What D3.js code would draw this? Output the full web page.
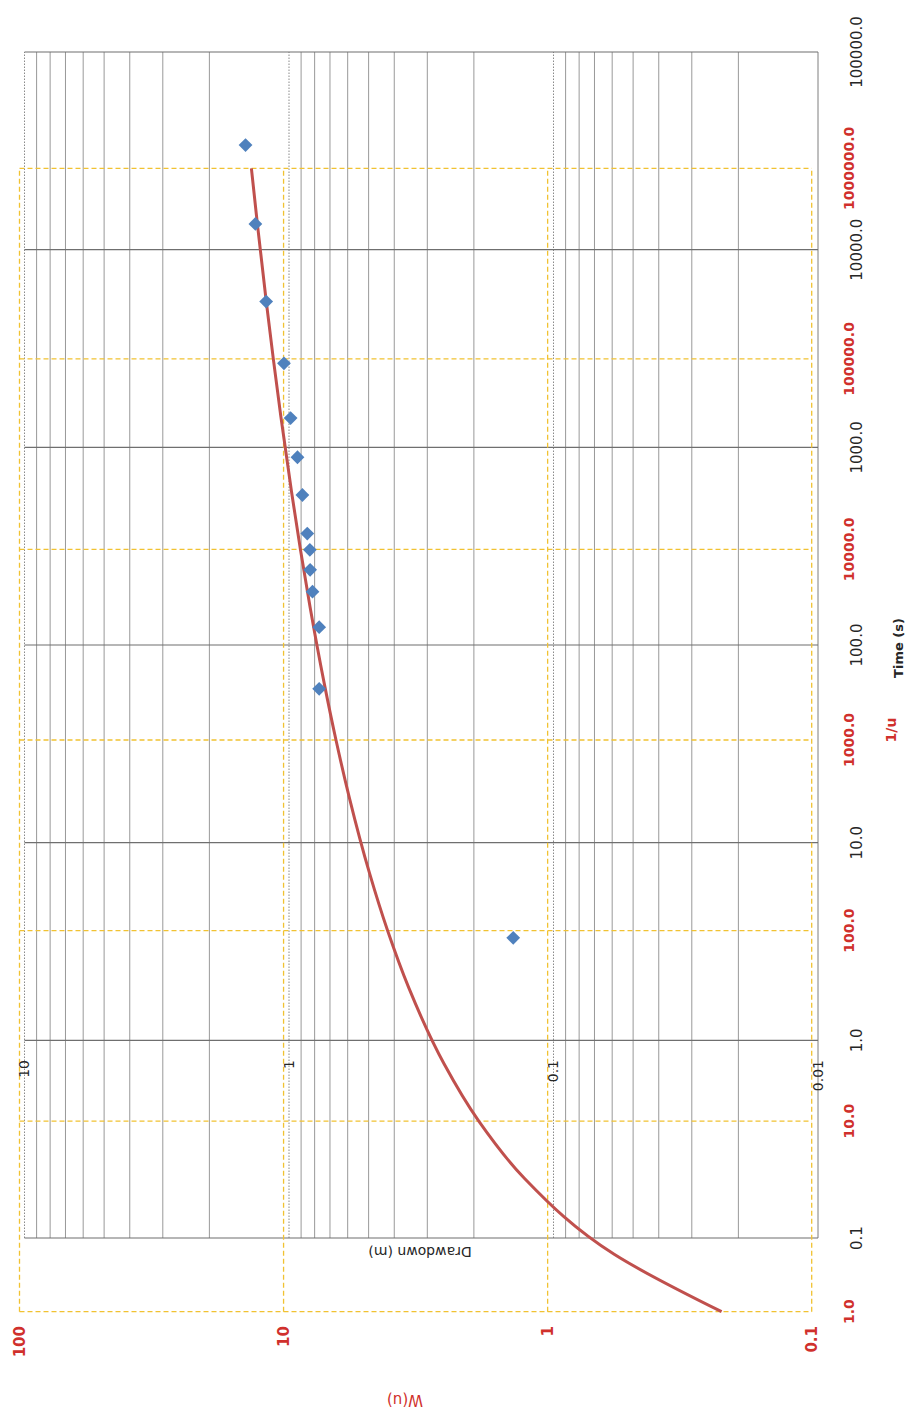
<!DOCTYPE html>
<html>
<head>
<meta charset="utf-8">
<script src="https://cdn.jsdelivr.net/npm/d3@7/dist/d3.min.js"></script>
<style>
    body { margin: 0; background: #fff; }
    text { font-family: "DejaVu Sans", sans-serif; }
</style>
</head>
<body>
<div id="chart"></div>
<script>
// Theis type curve: 1/u against W(u)
const invU = [1, 2, 5, 10, 20, 50, 100, 200, 500, 1000, 2000, 5000, 10000, 20000, 50000, 100000, 200000, 500000, 1000000];
const wu = [0.2194, 0.5598, 1.2227, 1.8229, 2.4679, 3.3547, 4.0379, 4.7261, 5.6394, 6.3315, 7.0237, 7.9402, 8.6332, 9.3263, 10.2426, 10.9357, 11.6289, 12.5451, 13.2383];

// field data: time (s) against drawdown (m)
const timeS = [3.3, 60, 123, 186, 240, 303, 366, 574, 891, 1407, 2660, 5460, 13490, 33800];
const drawdownM = [0.142, 0.769, 0.769, 0.815, 0.832, 0.834, 0.853, 0.89, 0.929, 0.986, 1.045, 1.22, 1.34, 1.46];

const timeTicks = [0.1, 1, 10, 100, 1000, 10000, 100000];
const invUTicks = [1, 10, 100, 1000, 10000, 100000, 1000000];
const wuTicks = [100, 10, 1, 0.1];
const drawdownTicks = [10, 1, 0.1, 0.01];

const W = 909, H = 1420;
const red = "#d0302c", yellow = "#f1c232";

const svg = d3.select("#chart").append("svg")
    .attr("width", W)
    .attr("height", H);

svg.append("rect").attr("width", W).attr("height", H).attr("fill", "#fff");

// the whole chart is drawn lying on its side
const g = svg.append("g")
    .attr("transform", `translate(0,${H}) rotate(-90)`);

const t = d3.scaleLog().domain([0.1, 100000]).range([182, 1368]);
const s = d3.scaleLog().domain([10, 0.01]).range([24.5, 818]);
const iu = d3.scaleLog().domain([1, 1000000]).range([108.3, 1251.7]);
const w = d3.scaleLog().domain([100, 0.1]).range([19.5, 811.7]);

// drawdown minor grid
const minor = s.ticks().filter(d => !drawdownTicks.some(m => Math.abs(m - d) < 1e-9));
g.append("g").selectAll("line")
    .data(minor)
    .join("line")
    .attr("x1", t.range()[0]).attr("x2", t.range()[1])
    .attr("y1", d => s(d)).attr("y2", d => s(d))
    .attr("stroke", "#999")
    .attr("stroke-width", 1);

// drawdown major grid (dotted), last one is the border
g.append("g").selectAll("line")
    .data(drawdownTicks)
    .join("line")
    .attr("x1", t.range()[0]).attr("x2", t.range()[1])
    .attr("y1", d => s(d)).attr("y2", d => s(d))
    .attr("stroke", d => d === 0.01 ? "#7f7f7f" : "#8a8a8a")
    .attr("stroke-dasharray", d => d === 0.01 ? null : "1.5,1.5")
    .attr("stroke-width", 1);

// time major grid
g.append("g").selectAll("line")
    .data(timeTicks)
    .join("line")
    .attr("x1", d => t(d)).attr("x2", d => t(d))
    .attr("y1", s.range()[0]).attr("y2", s.range()[1])
    .attr("stroke", "#6f6f6f")
    .attr("stroke-width", 1.2);

// type curve grid (yellow dashed)
g.append("g").selectAll("line")
    .data(wuTicks)
    .join("line")
    .attr("x1", iu.range()[0]).attr("x2", iu.range()[1])
    .attr("y1", d => w(d)).attr("y2", d => w(d))
    .attr("stroke", yellow)
    .attr("stroke-dasharray", "5,3")
    .attr("stroke-width", 1.3);

g.append("g").selectAll("line")
    .data(invUTicks)
    .join("line")
    .attr("x1", d => iu(d)).attr("x2", d => iu(d))
    .attr("y1", w.range()[0]).attr("y2", w.range()[1])
    .attr("stroke", yellow)
    .attr("stroke-dasharray", "5,3")
    .attr("stroke-width", 1.3);

// type curve
const curve = invU.map((d, i) => ({ x: d, y: wu[i] }));
g.append("path")
    .datum(curve)
    .attr("fill", "none")
    .attr("stroke", "#c0504d")
    .attr("stroke-width", 3)
    .attr("d", d3.line()
        .x(d => iu(d.x))
        .y(d => w(d.y))
        .curve(d3.curveMonotoneX));

// field data markers
const pts = timeS.map((d, i) => ({ t: d, s: drawdownM[i] }));
g.append("g").selectAll("path")
    .data(pts)
    .join("path")
    .attr("transform", d => `translate(${t(d.t)},${s(d.s)}) rotate(45)`)
    .attr("d", d3.symbol(d3.symbolSquare, 95))
    .attr("fill", "#4f81bd");

// time labels
g.append("g").selectAll("text")
    .data(timeTicks)
    .join("text")
    .attr("x", d => t(d))
    .attr("y", 857)
    .attr("dy", "0.35em")
    .attr("text-anchor", "middle")
    .attr("font-size", 15)
    .attr("fill", "#262626")
    .text(d => d3.format(".1f")(d));

// 1/u labels
g.append("g").selectAll("text")
    .data(invUTicks)
    .join("text")
    .attr("x", d => iu(d))
    .attr("y", 849)
    .attr("dy", "0.35em")
    .attr("text-anchor", "middle")
    .attr("font-size", 14)
    .attr("font-weight", "bold")
    .attr("fill", red)
    .text(d => d3.format(".1f")(d));

// W(u) labels
g.append("g").selectAll("text")
    .data(wuTicks)
    .join("text")
    .attr("x", 94)
    .attr("y", d => w(d))
    .attr("dy", "0.35em")
    .attr("text-anchor", "end")
    .attr("font-size", 15)
    .attr("font-weight", "bold")
    .attr("fill", red)
    .text(d => String(d));

// drawdown labels
g.append("g").selectAll("text")
    .data(drawdownTicks)
    .join("text")
    .attr("x", 360)
    .attr("y", d => s(d))
    .attr("dy", "0.35em")
    .attr("text-anchor", "end")
    .attr("font-size", 14)
    .attr("fill", "#262626")
    .text(d => String(d));

// axis titles
g.append("text")
    .attr("transform", "translate(20,405) rotate(-90)")
    .attr("dy", "0.35em")
    .attr("text-anchor", "middle")
    .attr("font-size", 15)
    .attr("fill", red)
    .text("W(u)");

g.append("text")
    .attr("transform", "translate(168,420) rotate(-90)")
    .attr("dy", "0.35em")
    .attr("text-anchor", "middle")
    .attr("font-size", 14)
    .attr("fill", "#262626")
    .text("Drawdown (m)");

g.append("text")
    .attr("x", 772).attr("y", 898)
    .attr("dy", "0.35em")
    .attr("text-anchor", "middle")
    .attr("font-size", 13)
    .attr("font-weight", "bold")
    .attr("fill", "#262626")
    .text("Time (s)");

g.append("text")
    .attr("x", 690).attr("y", 891)
    .attr("dy", "0.35em")
    .attr("text-anchor", "middle")
    .attr("font-size", 14)
    .attr("font-weight", "bold")
    .attr("fill", red)
    .text("1/u");
</script>
</body>
</html>
